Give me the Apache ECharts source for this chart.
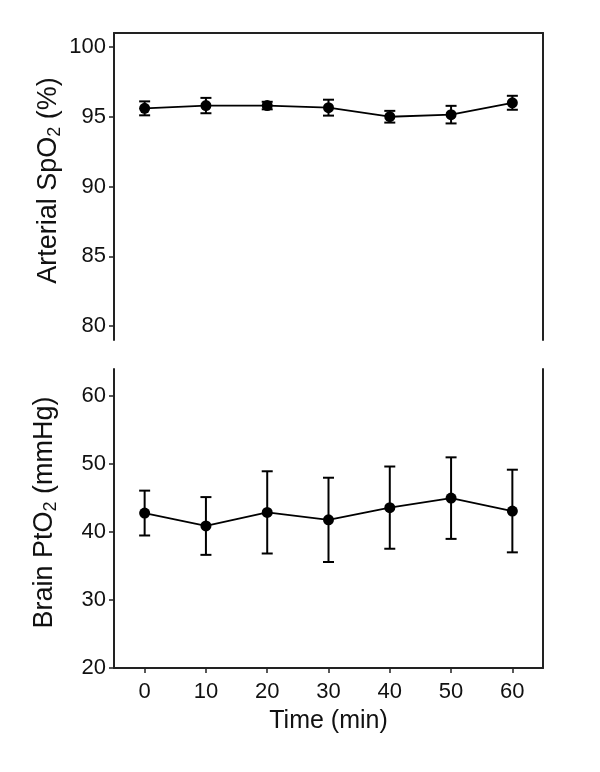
<!DOCTYPE html>
<html>
<head>
<meta charset="utf-8">
<script src="https://cdn.jsdelivr.net/npm/echarts@6/dist/echarts.min.js"></script>
<style>
html,body{margin:0;padding:0;background:#fff;}
#chart{width:600px;height:772px;}
</style>
</head>
<body>
<div id="chart"></div>
<script>
// ---- data ----
var times = [0, 10, 20, 30, 40, 50, 60];
var spo2Mean = [95.6, 95.8, 95.8, 95.65, 95.0, 95.15, 96.0];
var spo2Err  = [0.5, 0.55, 0.27, 0.57, 0.42, 0.63, 0.5];
var ptoMean  = [42.8, 40.9, 42.9, 41.8, 43.6, 45.0, 43.1];
var ptoErr   = [3.3, 4.25, 6.05, 6.2, 6.05, 6.0, 6.08];
var xTicks = [0, 10, 20, 30, 40, 50, 60];
var yTicksTop = [80, 85, 90, 95, 100];
var yTicksBottom = [20, 30, 40, 50, 60];

var FONT = '"Liberation Sans", Arial, Helvetica, sans-serif';
var INK = '#111';
var AXIS = '#222';

function pairs(xs, ys){ return xs.map(function(x,i){ return [x, ys[i]]; }); }
function bars(xs, m, e){ return xs.map(function(x,i){ return [x, m[i]-e[i], m[i]+e[i]]; }); }

function renderErr(params, api){
  var x = api.value(0), lo = api.value(1), hi = api.value(2);
  var p1 = api.coord([x, hi]), p2 = api.coord([x, lo]);
  var w = 5.5;
  var st = {stroke:'#000', lineWidth:2};
  return {type:'group', children:[
    {type:'line', shape:{x1:p1[0], y1:p1[1], x2:p2[0], y2:p2[1]}, style:st},
    {type:'line', shape:{x1:p1[0]-w, y1:p1[1], x2:p1[0]+w, y2:p1[1]}, style:st},
    {type:'line', shape:{x1:p2[0]-w, y1:p2[1], x2:p2[0]+w, y2:p2[1]}, style:st}
  ]};
}

var nameRich = {
  m: {fontSize: 27, fontFamily: FONT, color: INK, lineHeight: 31, verticalAlign: 'bottom', padding: [0,0,2,0]},
  s: {fontSize: 18, fontFamily: FONT, color: INK, lineHeight: 21, verticalAlign: 'bottom'}
};

var lineAx = {show:true, onZero:false, lineStyle:{color:AXIS, width:2}};

var chart = echarts.init(document.getElementById('chart'), null, {renderer:'canvas'});
chart.setOption({
  backgroundColor: '#fff',
  animation: false,
  grid: [
    {left:114, right:57, top:33, height:307, containLabel:false, outerBoundsMode:'none'},
    {left:114, right:57, top:369, height:299, containLabel:false, outerBoundsMode:'none'}
  ],
  xAxis: [
    {gridIndex:0, type:'value', min:-5, max:65, position:'top',
     axisLine:lineAx, axisTick:{show:false}, axisLabel:{show:false}, splitLine:{show:false}},
    {gridIndex:1, type:'value', min:-5, max:65, position:'bottom',
     axisLine:lineAx,
     axisTick:{show:true, inside:false, length:5, lineStyle:{color:AXIS, width:1.5}, customValues:xTicks},
     axisLabel:{show:true, margin:13, fontSize:22, fontFamily:FONT, color:INK, customValues:xTicks},
     splitLine:{show:false},
     name:'Time (min)', nameLocation:'middle', nameGap:41, nameMoveOverlap:false,
     nameTextStyle:{fontSize:25, fontFamily:FONT, color:INK}}
  ],
  yAxis: [
    {gridIndex:0, type:'value', min:79, max:101, position:'left',
     axisLine:lineAx,
     axisTick:{show:true, inside:false, length:5, lineStyle:{color:AXIS, width:1.5}, customValues:yTicksTop},
     axisLabel:{show:true, margin:8, fontSize:22, fontFamily:FONT, color:INK, customValues:yTicksTop},
     splitLine:{show:false},
     name:'{m|Arterial SpO}{s|2}{m| (%)}', nameLocation:'middle', nameGap:50, nameMoveOverlap:false,
     nameTextStyle:{rich:nameRich, padding:[0,0,0,12]}},
    {gridIndex:0, type:'value', min:79, max:101, position:'right',
     axisLine:lineAx, axisTick:{show:false}, axisLabel:{show:false}, splitLine:{show:false}},
    {gridIndex:1, type:'value', min:20, max:64, position:'left',
     axisLine:lineAx,
     axisTick:{show:true, inside:false, length:5, lineStyle:{color:AXIS, width:1.5}, customValues:yTicksBottom},
     axisLabel:{show:true, margin:8, fontSize:22, fontFamily:FONT, color:INK, customValues:yTicksBottom},
     splitLine:{show:false},
     name:'{m|Brain PtO}{s|2}{m| (mmHg)}', nameLocation:'middle', nameGap:54, nameMoveOverlap:false,
     nameTextStyle:{rich:nameRich, padding:[0,0,0,12]}},
    {gridIndex:1, type:'value', min:20, max:64, position:'right',
     axisLine:lineAx, axisTick:{show:false}, axisLabel:{show:false}, splitLine:{show:false}}
  ],
  series: [
    {type:'custom', xAxisIndex:0, yAxisIndex:0, renderItem:renderErr,
     encode:{x:0, y:[1,2]}, data:bars(times, spo2Mean, spo2Err), z:2, silent:true},
    {type:'line', xAxisIndex:0, yAxisIndex:0, data:pairs(times, spo2Mean),
     symbol:'circle', symbolSize:11, showAllSymbol:true,
     itemStyle:{color:'#000'}, lineStyle:{color:'#000', width:1.8}, z:3, silent:true},
    {type:'custom', xAxisIndex:1, yAxisIndex:2, renderItem:renderErr,
     encode:{x:0, y:[1,2]}, data:bars(times, ptoMean, ptoErr), z:2, silent:true},
    {type:'line', xAxisIndex:1, yAxisIndex:2, data:pairs(times, ptoMean),
     symbol:'circle', symbolSize:11, showAllSymbol:true,
     itemStyle:{color:'#000'}, lineStyle:{color:'#000', width:1.8}, z:3, silent:true}
  ]
});
</script>
</body>
</html>
